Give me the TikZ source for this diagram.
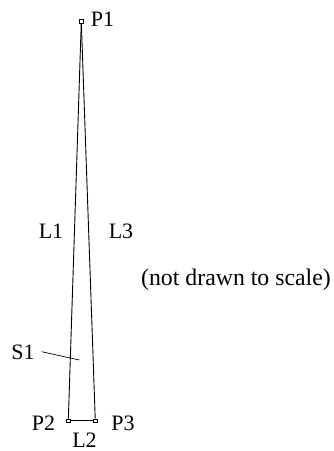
\documentclass[tikz,border=0pt]{standalone}
\usepackage{fontspec}
\setmainfont{Liberation Serif}
\begin{document}
\begin{tikzpicture}[x=1pt,y=-1pt,
  lbl/.style={inner sep=0pt,anchor=base,font=\fontsize{22}{24}\selectfont},
  pt/.style={draw,rectangle,minimum size=3.5pt,inner sep=0pt,line width=0.7pt},
  edge/.style={line width=0.9pt}]
\useasboundingbox (0,0) rectangle (333,451);
\node[pt] (p1) at (81.3,21.5) {};
\node[pt] (p2) at (68.3,420.7) {};
\node[pt] (p3) at (95.3,420.7) {};
\draw[edge] (p1) -- (p2);
\draw[edge] (p1) -- (p3);
\draw[edge] (p2) -- (p3);
\node[lbl] (tP1) at (102.5,26) {P1};
\node[lbl] (tL1) at (51,238) {L1};
\node[lbl] (tL3) at (121,238) {L3};
\node[lbl,font=\fontsize{23.8}{26}\selectfont] (tnote) at (236,285) {(not drawn to scale)};
\node[lbl] (tS1) at (23,359) {S1};
\node[lbl] (tP2) at (43.5,430) {P2};
\node[lbl] (tP3) at (123,430) {P3};
\node[lbl] (tL2) at (84.5,447.5) {L2};
\coordinate (s1a) at (41.7,351.7);
\coordinate (s1b) at (79.3,360);
\draw[line width=0.7pt] (s1a) -- (s1b);
\end{tikzpicture}
\end{document}
